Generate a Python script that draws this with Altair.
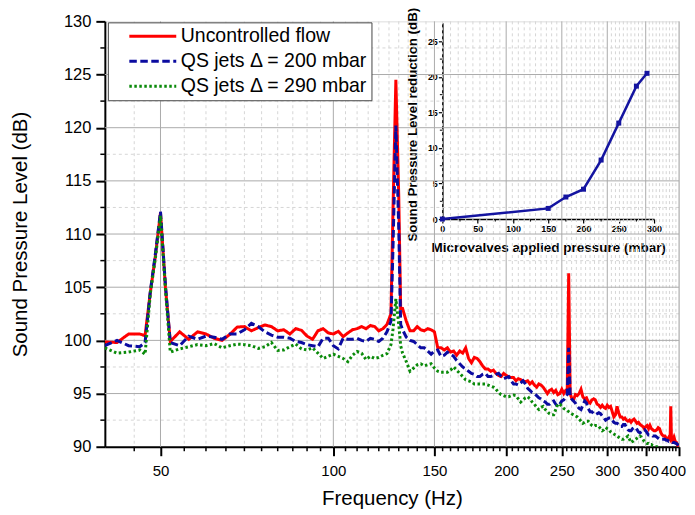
import altair as alt
import pandas as pd

FREQ = [40, 42, 44, 46, 47, 48, 49, 50, 51, 52,
        54, 56, 58, 60, 62, 64, 66, 68, 70, 72,
        74, 76, 78, 80, 82, 84, 86, 88, 90, 92,
        94, 96, 98, 100, 102, 104, 106, 108, 110, 112,
        114, 116, 118, 120, 122, 124, 126,
        127, 128.5, 130, 131, 132,
        134, 136, 138, 140, 142, 144, 146, 148, 150, 152,
        154, 156, 158, 160, 162, 164, 166, 168, 170, 172,
        174, 176, 178, 180, 182, 184, 186, 188, 190, 192,
        194, 196, 198, 200, 202, 204, 206, 208, 210, 212,
        214, 216, 218, 220, 222, 224, 226, 228, 230, 232,
        234, 236, 238, 240, 242, 244, 246, 248, 250, 252,
        254,
        255.5, 257, 258.5,
        260, 262, 264, 266, 268, 270, 272, 274, 276, 278,
        280, 282, 284, 286, 288, 290, 292, 294, 296, 298,
        300, 302, 304, 306, 308, 310, 312, 314, 316, 318,
        320, 322, 324, 326, 328, 330, 332, 334, 336, 338,
        340, 342, 344, 346, 348, 350, 352, 354, 356, 358,
        360, 362, 364, 366, 368, 370, 372, 374, 376, 378,
        380, 382, 384, 386,
        387, 388,
        390, 392, 394, 396, 398, 400]

UNCONTROLLED = [99.85, 99.8, 100.6, 100.6, 100.45, 104.5, 108.0, 112.0, 105.0, 99.9,
                100.8, 100.1, 100.8, 100.6, 100.2, 100.0, 100.55, 101.25, 101.3, 100.9,
                101.2, 101.45, 101.3, 100.9, 101.0, 100.6, 101.1, 100.95, 100.4, 100.1,
                100.9, 101.1, 100.7, 100.6, 100.85, 100.35, 100.7, 101.0, 101.1, 101.3,
                101.1, 101.4, 101.3, 100.9, 101.1, 101.5, 102.5,
                112.0, 124.5, 113.5, 103.0, 103.0,
                101.8, 100.9, 100.9, 101.3, 101.0, 100.9, 101.1, 101.0, 100.8, 99.3,
                99.3, 99.1, 99.3, 98.9, 99.0, 98.6, 99.0, 98.8, 99.3, 98.3,
                97.9, 98.4, 98.3, 98.0, 97.6, 97.3, 97.3, 97.1, 97.2, 96.9,
                96.7, 96.6, 96.9, 96.7, 96.6, 96.5, 96.5, 96.2, 96.4, 96.3,
                96.2, 96.1, 96.2, 95.9, 96.1, 95.8, 95.6, 95.9, 95.8, 95.6,
                95.3, 95.0, 95.3, 95.4, 95.1, 95.3, 94.9, 95.0, 95.4, 95.0,
                95.3,
                95.3, 106.3, 95.0,
                94.6, 94.4, 94.9, 94.8, 95.0, 95.4, 94.7, 94.5, 94.6, 94.2,
                94.1, 94.4, 94.5, 94.4, 94.0, 93.9, 93.7, 93.9, 93.7, 93.6,
                93.9, 93.7, 93.8, 93.3, 92.8, 93.0, 93.8, 93.2, 92.8, 92.8,
                92.6, 92.7, 92.5, 92.4, 92.5, 92.3, 92.5, 92.6, 92.4, 92.2,
                92.3, 92.1, 92.0, 91.9, 91.7, 91.9, 92.0, 91.7, 92.0, 91.7,
                91.6, 91.5, 91.5, 91.6, 91.8, 91.7, 91.3, 91.1, 91.0, 91.0,
                90.8, 90.7, 90.9, 90.7,
                93.8, 90.8,
                90.6, 90.9, 90.5, 90.4, 90.1, 89.8]

JETS_200 = [99.5, 100.0, 99.5, 99.4, 99.8, 104.6, 108.2, 112.1, 105.2, 99.8,
            99.5, 100.4, 100.1, 100.4, 100.3, 100.1, 100.6, 100.6, 101.0, 101.6,
            101.3, 100.8, 100.5, 100.3, 100.3, 100.2, 99.9, 99.8, 99.6, 99.5,
            99.4, 100.2, 100.2, 99.5, 99.2, 100.2, 100.1, 100.1, 100.2, 100.0,
            99.9, 100.2, 100.1, 99.9, 100.2, 100.8, 101.8,
            108.5, 120.2, 110.5, 101.5, 101.0,
            100.3, 100.0, 99.9, 99.6, 99.3, 99.3, 99.0, 98.7, 99.0, 99.1,
            98.5, 98.6, 98.9, 98.7, 98.5, 98.1, 97.8, 97.5, 97.3, 97.1,
            96.9, 96.8, 96.6, 96.6, 96.8, 96.9, 96.6, 96.6, 96.7, 96.8,
            96.9, 96.6, 96.4, 96.5, 96.6, 96.2, 95.9, 95.9, 95.8, 96.0,
            96.2, 95.9, 95.5, 95.3, 95.1, 95.0, 94.8, 94.6, 94.5, 94.3,
            94.2, 94.0, 94.0, 94.2, 94.3, 94.0, 93.8, 94.0, 94.3, 94.4,
            94.7,
            94.9, 99.3, 94.8,
            94.5, 94.3, 94.1, 93.8, 93.6, 93.5, 93.9, 94.3, 94.1, 93.6,
            93.3, 93.3, 93.1, 93.0, 93.1, 93.2, 93.1, 92.9, 92.7, 92.5,
            92.6, 92.7, 92.7, 92.5, 92.3, 92.2, 92.2, 92.1, 91.9, 91.9,
            92.1, 92.1, 91.8, 91.6, 91.5, 91.5, 91.7, 91.8, 91.8, 91.6,
            91.4, 91.3, 91.4, 91.5, 91.6, 91.5, 91.3, 91.1, 91.1, 91.1,
            91.0, 91.0, 91.0, 90.9, 90.8, 90.7, 90.7, 90.7, 90.7, 90.7,
            90.6, 90.6, 90.5, 90.5,
            90.5, 90.5,
            90.4, 90.4, 90.35, 90.3, 90.2, 90.1]

JETS_290 = [99.3, 98.8, 98.9, 99.1, 98.7, 104.4, 107.8, 111.7, 104.8, 98.9,
            99.2, 99.4, 99.6, 99.5, 99.7, 99.3, 99.5, 99.65, 99.6, 99.5,
            99.25, 99.4, 99.8, 99.05, 99.1, 99.4, 99.65, 99.2, 99.1, 99.3,
            98.8, 98.3, 98.5, 98.7, 98.5, 98.3, 98.0, 98.6, 98.95, 98.8,
            98.2, 98.5, 98.3, 98.4, 98.6, 98.75, 99.6,
            101.0, 103.9, 101.5, 99.5, 98.8,
            98.0, 97.1, 97.4, 97.7, 97.8, 97.6, 97.7, 97.8, 97.4, 97.1,
            97.0, 97.0, 97.0, 97.2, 97.5, 97.2, 96.9, 96.6, 96.3, 96.2,
            96.1, 95.9, 95.9, 95.9, 95.9, 95.9, 95.8, 95.7, 95.6, 95.4,
            95.1, 94.9, 94.8, 94.7, 94.7, 94.8, 94.85, 94.8, 94.5, 94.2,
            94.4, 94.6, 94.7, 94.5, 94.2, 94.0, 93.7, 93.5, 93.7, 93.8,
            93.5, 93.3, 93.1, 93.0, 93.0, 93.5, 94.0, 94.0, 93.8, 93.6,
            93.5,
            93.4, 93.3, 93.2,
            93.1, 93.0, 92.9, 92.8, 92.6, 92.4, 92.2, 92.3, 92.4, 92.4,
            92.2, 92.0, 91.9, 92.0, 92.0, 91.9, 91.7, 91.5, 91.6, 91.8,
            91.7, 91.6, 91.4, 91.3, 91.2, 91.1, 91.0, 90.9, 90.8, 90.7,
            90.7, 90.8, 90.9, 91.0, 90.7, 90.4, 90.5, 90.6, 90.7, 90.8,
            90.9, 91.0, 90.9, 90.7, 90.5, 90.4, 90.3, 90.3, 90.2, 90.2,
            90.1, 90.1, 90.0, 90.0, 89.9, 89.9, 89.9, 89.8, 89.7, 89.7,
            89.6, 89.5, 89.5, 89.5,
            89.5, 89.5,
            89.4, 89.4, 89.3, 89.3, 89.2, 89.2]

SERIES = ["Uncontrolled flow", "QS jets \u0394 = 200 mbar", "QS jets \u0394 = 290 mbar"]
COLORS = ["#ff0000", "#0b0ba0", "#0a8a0a"]
DASHES = [[1, 0], [7.5, 3.5], [2.5, 2.5]]

X_MAJOR = [50, 100, 150, 200, 250, 300, 350, 400]
X_MINOR = [v for v in range(45, 400, 5) if v % 50]
Y_MAJOR = [90, 95, 100, 105, 110, 115, 120, 125, 130]
Y_GRID = [95, 100, 105, 110, 115, 120, 125]
Y_MINOR = [92.5, 97.5, 102.5, 107.5, 112.5, 117.5, 122.5, 127.5]

PRESSURE = [0, 150, 175, 200, 225, 250, 275, 290]
REDUCTION = [0.0, 1.5, 3.1, 4.2, 8.3, 13.5, 18.7, 20.5]
IN_X_MAJOR = [0, 50, 100, 150, 200, 250, 300]
IN_X_MINOR = [25, 75, 125, 175, 225, 275]
IN_Y_MAJOR = [0, 5, 10, 15, 20, 25]
IN_Y_MINOR = [2.5, 7.5, 12.5, 17.5, 22.5]
INSET_COLOR = "#1414a0"

assert len(FREQ) == len(UNCONTROLLED) == len(JETS_200) == len(JETS_290)

rows = []
for name, vals in zip(SERIES, [UNCONTROLLED, JETS_200, JETS_290]):
    for f, v in zip(FREQ, vals):
        rows.append({"freq": f, "spl": v, "series": name})
df = pd.DataFrame(rows)
inset_df = pd.DataFrame({"p": PRESSURE, "r": REDUCTION})

FONT = "Liberation Sans"
W, H = 575, 426
MAJOR_GRID = "#ababab"
MINOR_GRID = "#d6d6d6"

xs = alt.Scale(type="log", domain=[40, 400], nice=False)
ys = alt.Scale(domain=[90, 130], nice=False, zero=False)
color_scale = alt.Scale(domain=SERIES, range=COLORS)
dash_scale = alt.Scale(domain=SERIES, range=DASHES)

legend = alt.Legend(
    title=None, orient="none", legendX=3, legendY=1,
    symbolType="stroke", symbolSize=47 * 47, symbolStrokeWidth=3,
    clipHeight=20, rowPadding=5, padding=4,
    symbolOffset=16, labelOffset=3,
    labelFont=FONT, labelFontSize=19.5, labelColor="black", labelLimit=0,
    fillColor="white", strokeColor="#444444",
)

major_axis_x = alt.Axis(orient="bottom", values=X_MAJOR, format="d",
                        labelFont=FONT, labelFontSize=15, labelColor="black",
                        labelPadding=8, labelOverlap=False, labelFlush=False,
                        labelOffset={"condition": {"test": "datum.value == 400", "value": -6}, "value": 0},
                        tickSize=9, tickWidth=2, tickColor="black",
                        domainColor="black", domainWidth=2, grid=False,
                        title="Frequency (Hz)", titleFont=FONT, titleFontSize=20.5,
                        titleFontWeight="normal", titleColor="black", titlePadding=10)
major_axis_y = alt.Axis(orient="left", values=Y_MAJOR, format="d",
                        labelFont=FONT, labelFontSize=16.5, labelColor="black",
                        labelPadding=5, labelOverlap=False,
                        tickSize=9, tickWidth=2, tickColor="black",
                        domainColor="black", domainWidth=2, grid=False,
                        title="Sound Pressure Level (dB)", titleFont=FONT, titleFontSize=20.5,
                        titleFontWeight="normal", titleColor="black", titlePadding=33)

xminor_df = pd.DataFrame({"freq": X_MINOR})
xmajor_df = pd.DataFrame({"freq": X_MAJOR})
yminor_df = pd.DataFrame({"spl": Y_MINOR})
ygrid_df = pd.DataFrame({"spl": Y_GRID})

# Axes are defined on the first layer; the other layers keep the default
# (no axis=None, which would disable the shared axis).
x_minor_grid = alt.Chart(xminor_df).mark_rule(color=MINOR_GRID, strokeWidth=1, strokeDash=[3, 3]).encode(
    x=alt.X("freq:Q", scale=xs, axis=major_axis_x))
y_minor_grid = alt.Chart(yminor_df).mark_rule(color=MINOR_GRID, strokeWidth=1, strokeDash=[3, 3]).encode(
    y=alt.Y("spl:Q", scale=ys, axis=major_axis_y))
x_major_grid = alt.Chart(xmajor_df).mark_rule(color=MAJOR_GRID, strokeWidth=1).encode(
    x=alt.X("freq:Q", scale=xs))
y_major_grid = alt.Chart(ygrid_df).mark_rule(color=MAJOR_GRID, strokeWidth=1).encode(
    y=alt.Y("spl:Q", scale=ys))
x_minor_ticks = alt.Chart(xminor_df).mark_rule(color="black", strokeWidth=1.5).encode(
    x=alt.X("freq:Q", scale=xs), y=alt.value(H), y2=alt.value(H + 4.5))
y_minor_ticks = alt.Chart(yminor_df).mark_rule(color="black", strokeWidth=1.5).encode(
    y=alt.Y("spl:Q", scale=ys), x=alt.value(0), x2=alt.value(-4.5))


def series_layer(i):
    return alt.Chart(df).transform_filter(
        alt.datum.series == SERIES[i]
    ).mark_line(strokeWidth=3, clip=True, strokeCap="butt").encode(
        x=alt.X("freq:Q", scale=xs),
        y=alt.Y("spl:Q", scale=ys),
        color=alt.Color("series:N", scale=color_scale, legend=legend),
        strokeDash=alt.StrokeDash("series:N", scale=dash_scale, legend=legend),
    )


main = alt.layer(
    x_minor_grid, y_minor_grid, x_major_grid, y_major_grid,
    x_minor_ticks, y_minor_ticks,
    series_layer(0), series_layer(1), series_layer(2)
)

ixs = alt.Scale(domain=[0, 300], range=[338, 550], nice=False)
iys = alt.Scale(domain=[0, 27.6], range=[198, 1.5], nice=False, zero=False)

in_xminor_df = pd.DataFrame({"p": IN_X_MINOR})
in_yminor_df = pd.DataFrame({"r": IN_Y_MINOR})

inset_axis_x = alt.Axis(
    orient="bottom", offset=-228, values=IN_X_MAJOR, format="d",
    labelFont=FONT, labelFontSize=9, labelFontWeight="bold", labelColor="black",
    labelPadding=1, labelOverlap=False, labelFlush=False, tickSize=4, tickWidth=1.2, tickColor="black",
    domainColor="black", domainWidth=1.5, grid=False,
    title="Microvalves applied pressure (mbar)", titleFont=FONT, titleFontSize=13.5,
    titleFontWeight="bold", titleColor="black", titlePadding=7)
inset_axis_y = alt.Axis(
    orient="left", offset=-338, values=IN_Y_MAJOR, format="d",
    labelFont=FONT, labelFontSize=9, labelFontWeight="bold", labelColor="black",
    labelPadding=1, labelOverlap=False, tickSize=4, tickWidth=1.2, tickColor="black",
    domainColor="black", domainWidth=1.5, grid=False,
    title="Sound Pressure Level reduction (dB)", titleFont=FONT, titleFontSize=13.3,
    titleFontWeight="bold", titleColor="black", titlePadding=8, titleY=103)

inset_x_minor = alt.Chart(in_xminor_df).mark_rule(color="black", strokeWidth=1).encode(
    x=alt.X("p:Q", scale=ixs, axis=inset_axis_x), y=alt.value(198), y2=alt.value(200.5))
inset_y_minor = alt.Chart(in_yminor_df).mark_rule(color="black", strokeWidth=1).encode(
    y=alt.Y("r:Q", scale=iys, axis=inset_axis_y), x=alt.value(338), x2=alt.value(335.5))
inset_line = alt.Chart(inset_df).mark_line(color=INSET_COLOR, strokeWidth=2.5).encode(
    x=alt.X("p:Q", scale=ixs),
    y=alt.Y("r:Q", scale=iys),
)
inset_pts = alt.Chart(inset_df).mark_point(
    shape="square", filled=True, size=25, color=INSET_COLOR, opacity=1
).encode(
    x=alt.X("p:Q", scale=ixs),
    y=alt.Y("r:Q", scale=iys),
)
inset = alt.layer(inset_x_minor, inset_y_minor, inset_line, inset_pts)

chart = alt.layer(main, inset).resolve_scale(
    x="independent", y="independent"
).properties(
    width=W, height=H,
    autosize=alt.AutoSizeParams(type="none"),
    padding={"left": 97, "top": 13, "right": 8, "bottom": 68},
).configure_view(stroke=None).configure(font=FONT)

chart.save("out.html", embed_options={"renderer": "svg", "actions": False})
